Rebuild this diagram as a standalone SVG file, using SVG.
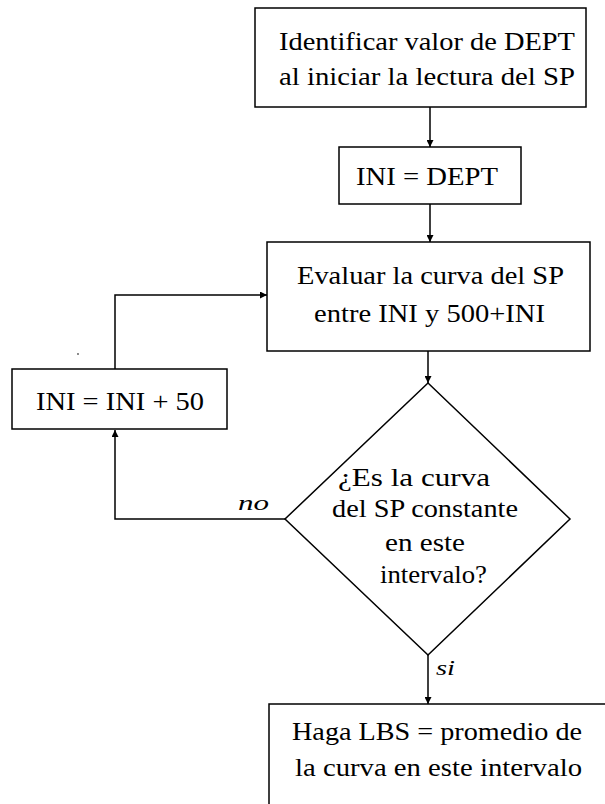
<svg xmlns="http://www.w3.org/2000/svg" width="605" height="804" viewBox="0 0 605 804">
  <style>
    .shape { fill: #ffffff; stroke: #000000; stroke-width: 1.5; }
    .edge { fill: none; stroke: #000000; stroke-width: 1.5; }
    .lbl { font-family: 'Liberation Serif', 'DejaVu Serif', serif; font-size: 25px; fill: #000000; text-anchor: middle; }
    .tag { font-family: 'Liberation Serif', 'DejaVu Serif', serif; font-size: 22px; font-style: italic; fill: #000000; }
  </style>
  <defs>
    <marker id="arrow" viewBox="0 0 10 10" refX="10" refY="5" markerWidth="7" markerHeight="7" markerUnits="userSpaceOnUse" orient="auto">
      <path d="M0,0 L10,5 L0,10 Z" fill="#000000"/>
    </marker>
  </defs>
  <rect width="605" height="804" fill="#ffffff"/>

  <!-- connectors -->
  <g id="connectors">
    <line class="edge" x1="430" y1="107" x2="430" y2="147" marker-end="url(#arrow)"/>
    <line class="edge" x1="430" y1="204" x2="430" y2="242" marker-end="url(#arrow)"/>
    <line class="edge" x1="428" y1="351" x2="428" y2="383" marker-end="url(#arrow)"/>
    <polyline class="edge" points="285,519 115,519 115,430" marker-end="url(#arrow)"/>
    <polyline class="edge" points="115,369 115,295 267,295" marker-end="url(#arrow)"/>
    <line class="edge" x1="428" y1="655" x2="428" y2="704" marker-end="url(#arrow)"/>
    <text class="tag" x="238" y="510" textLength="31" lengthAdjust="spacingAndGlyphs">no</text>
    <text class="tag" x="436" y="675" textLength="19" lengthAdjust="spacingAndGlyphs">si</text>
  </g>

  <!-- start: read DEPT -->
  <g id="identificar">
    <rect class="shape" x="255" y="8" width="331" height="99"/>
    <text class="lbl" x="427" y="50" textLength="296" lengthAdjust="spacingAndGlyphs">Identificar valor de DEPT</text>
    <text class="lbl" x="427" y="85" textLength="296" lengthAdjust="spacingAndGlyphs">al iniciar la lectura del SP</text>
  </g>

  <g id="ini-dept">
    <rect class="shape" x="339" y="147" width="182" height="57"/>
    <text class="lbl" x="427" y="185" textLength="142" lengthAdjust="spacingAndGlyphs">INI = DEPT</text>
  </g>

  <g id="evaluar">
    <rect class="shape" x="267" y="242" width="323" height="109"/>
    <text class="lbl" x="430.5" y="284" textLength="267" lengthAdjust="spacingAndGlyphs">Evaluar la curva del SP</text>
    <text class="lbl" x="429.5" y="322" textLength="231" lengthAdjust="spacingAndGlyphs">entre INI y 500+INI</text>
  </g>

  <g id="ini-inc">
    <rect class="shape" x="12" y="369" width="215" height="60"/>
    <text class="lbl" x="120" y="410" textLength="168" lengthAdjust="spacingAndGlyphs">INI = INI + 50</text>
  </g>

  <g id="decision">
    <polygon class="shape" points="428,383 570,519 428,655 285,519"/>
    <text class="lbl" x="414" y="486" textLength="152" lengthAdjust="spacingAndGlyphs">¿Es la curva</text>
    <text class="lbl" x="425" y="517" textLength="186" lengthAdjust="spacingAndGlyphs">del SP constante</text>
    <text class="lbl" x="425" y="551" textLength="80" lengthAdjust="spacingAndGlyphs">en este</text>
    <text class="lbl" x="433.5" y="583" textLength="107" lengthAdjust="spacingAndGlyphs">intervalo?</text>
  </g>

  <g id="lbs">
    <polyline class="edge" points="269,804 269,704 605,704"/>
    <text class="lbl" x="437" y="740" textLength="290" lengthAdjust="spacingAndGlyphs">Haga LBS = promedio de</text>
    <text class="lbl" x="438.5" y="776" textLength="287" lengthAdjust="spacingAndGlyphs">la curva en este intervalo</text>
  </g>

  <circle cx="78" cy="354" r="0.9" fill="#555555"/>
</svg>
